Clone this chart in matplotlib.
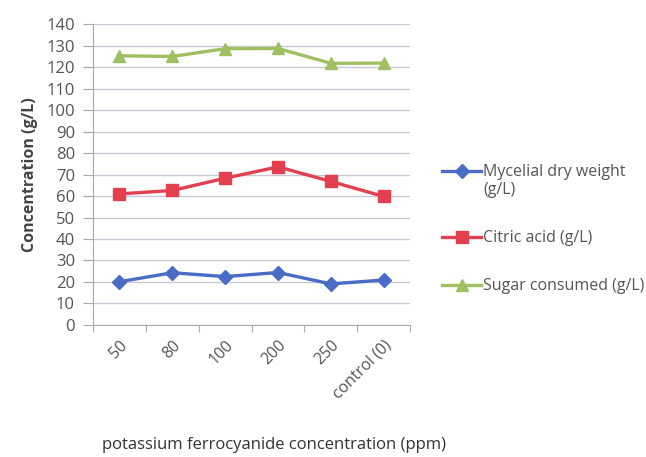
import matplotlib.pyplot as plt
from matplotlib.legend_handler import HandlerLine2D
import numpy as np

plt.rcParams['font.family'] = ['Open Sans', 'DejaVu Sans']

# treatment levels and measured concentrations (g/L)
concentrations = ["50", "80", "100", "200", "250", "control (0)"]
mycelial_dry_weight = [20.1, 24.3, 22.5, 24.4, 19.1, 20.9]
citric_acid = [61.0, 62.6, 68.3, 73.6, 66.8, 59.8]
sugar_consumed = [125.3, 125.0, 128.6, 128.7, 121.8, 121.9]


class FirstLineHandler(HandlerLine2D):
    """Legend handle raised to sit beside the first line of a wrapped label."""

    def __init__(self, shift, **kwargs):
        super().__init__(**kwargs)
        self.shift = shift

    def create_artists(self, legend, orig_handle, xdescent, ydescent,
                       width, height, fontsize, trans):
        artists = super().create_artists(legend, orig_handle, xdescent, ydescent,
                                         width, height, fontsize, trans)
        for a in artists:
            a.set_ydata(np.asarray(a.get_ydata(), dtype=float) + self.shift)
        return artists


fig = plt.figure(figsize=(6.46, 4.57), dpi=100)
ax = fig.add_axes([0.144, 0.289, 0.491, 0.658])

x = np.arange(len(concentrations))
l1, = ax.plot(x, mycelial_dry_weight, color="#4a6cc6", lw=2.4, marker="D", ms=7,
              label="Mycelial dry weight\n(g/L)")
l2, = ax.plot(x, citric_acid, color="#e2404e", lw=2.4, marker="s", ms=8.5,
              label="Citric acid (g/L)")
l3, = ax.plot(x, sugar_consumed, color="#9fc062", lw=2.4, marker="^", ms=9,
              label="Sugar consumed (g/L)")

ax.set_xlim(-0.5, len(concentrations) - 0.5)
ax.set_ylim(0, 140)
ax.set_yticks(np.arange(0, 141, 10))
ax.yaxis.grid(True, color="#cbc8d6", lw=1)
ax.set_axisbelow(True)

# category boundaries carry the tick marks, labels sit at the centres
ax.set_xticks(np.arange(-0.5, len(concentrations)), minor=False)
ax.set_xticklabels([])
ax.set_xticks(x, minor=True)
ax.set_xticklabels(concentrations, minor=True, rotation=45, ha="right",
                   va="top", rotation_mode="anchor", fontsize=11.5,
                   color="#555555")
ax.tick_params(axis="x", which="minor", length=0, pad=9)
ax.tick_params(axis="x", which="major", length=5, color="#aaaaaa")
ax.tick_params(axis="y", length=7, color="#aaaaaa", labelsize=12,
               labelcolor="#555555", pad=6)

for side in ("top", "right"):
    ax.spines[side].set_visible(False)
for side in ("left", "bottom"):
    ax.spines[side].set_color("#aaaaaa")

ax.set_ylabel("Concentration (g/L)", fontsize=11.5, fontweight="bold",
              color="#444444", labelpad=6)
fig.text(0.424, 0.008, "potassium ferrocyanide concentration (ppm)",
         ha="center", va="bottom", fontsize=12, color="#333333")

fig.legend(handles=[l1, l2, l3], loc="upper left", bbox_to_anchor=(0.675, 0.655),
           frameon=False, fontsize=11.5, labelcolor="#555555", handlelength=2.4,
           handletextpad=0.15, labelspacing=2.0, borderaxespad=0,
           handler_map={l1: FirstLineHandler(shift=8)})

plt.savefig("out.png", dpi=100)
